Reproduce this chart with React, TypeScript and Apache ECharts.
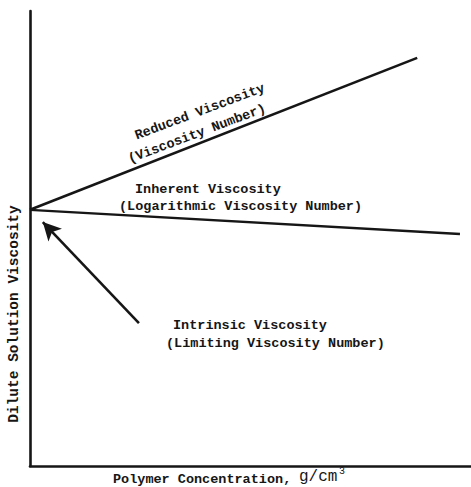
import React, { useEffect, useRef } from "react";
import * as echarts from "echarts";

// Schematic values (arbitrary units, axes 0..10)
const xDomain = [0, 10];
const yDomain = [0, 10];
const reducedViscosity = [
  [0, 5.63],
  [8.78, 8.97],
];
const inherentViscosity = [
  [0, 5.63],
  [9.75, 5.1],
];
const intrinsicArrowFrom = [2.47, 3.14];
const intrinsicArrowTo = [0.29, 5.36];

const labels = {
  reduced: ["Reduced Viscosity", "(Viscosity Number)"],
  inherent: ["Inherent Viscosity", "(Logarithmic Viscosity Number)"],
  intrinsic: ["Intrinsic Viscosity", "(Limiting Viscosity Number)"],
  xName: "Polymer Concentration,",
  xUnit: "g/cm",
  xUnitSup: "3",
  yName: "Dilute Solution Viscosity",
};

const INK = "#161616";
const MONO = "'Liberation Mono', 'DejaVu Sans Mono', monospace";

export default function App() {
  const ref = useRef<HTMLDivElement>(null);

  useEffect(() => {
    document.body.style.margin = "0";
    const chart = echarts.init(ref.current!, null, { renderer: "svg" });
    const txt = (
      text: string,
      x: number,
      y: number,
      opts: any = {}
    ) => ({
      type: "text",
      x,
      y,
      rotation: opts.rotation || 0,
      style: {
        text,
        fill: INK,
        font: `${opts.weight || "bold"} ${opts.size || 13.5}px ${opts.family || MONO}`,
        textAlign: opts.align || "left",
        textVerticalAlign: "middle",
      },
    });
    chart.setOption({
      animation: false,
      backgroundColor: "#ffffff",
      grid: { left: 30, right: 0, top: 11, bottom: 21 },
      xAxis: {
        type: "value",
        min: xDomain[0],
        max: xDomain[1],
        axisLine: { onZero: false, lineStyle: { color: INK, width: 2.6 } },
        axisTick: { show: false },
        axisLabel: { show: false },
        splitLine: { show: false },
      },
      yAxis: {
        type: "value",
        min: yDomain[0],
        max: yDomain[1],
        axisLine: { show: true, onZero: false, lineStyle: { color: INK, width: 2.6 } },
        axisTick: { show: false },
        axisLabel: { show: false },
        splitLine: { show: false },
      },
      series: [
        {
          type: "line",
          data: reducedViscosity,
          showSymbol: false,
          lineStyle: { color: INK, width: 2.6 },
        },
        {
          type: "line",
          data: inherentViscosity,
          showSymbol: false,
          lineStyle: { color: INK, width: 2.4 },
          markLine: {
            silent: true,
            symbol: ["none", "arrow"],
            symbolSize: [14, 18],
            label: { show: false },
            lineStyle: { color: INK, width: 2.6, type: "solid" },
            data: [[{ coord: intrinsicArrowFrom }, { coord: intrinsicArrowTo }]],
          },
        },
      ],
      graphic: [
        txt(labels.reduced[0], 200, 112, { rotation: 0.36, align: "center" }),
        txt(labels.reduced[1], 197, 134, { rotation: 0.36, align: "center" }),
        txt(labels.inherent[0], 135, 189),
        txt(labels.inherent[1], 119, 206),
        txt(labels.intrinsic[0], 173, 325),
        txt(labels.intrinsic[1], 166, 343),
        txt(labels.yName, 14, 314, { rotation: Math.PI / 2, align: "center", size: 14.5 }),
        txt(labels.xName, 113, 479),
        txt(labels.xUnit, 299, 477, { size: 16, weight: "normal" }),
        txt(labels.xUnitSup, 339, 471, { size: 10, weight: "normal" }),
      ],
    });
    return () => chart.dispose();
  }, []);

  return <div ref={ref} style={{ width: 471, height: 487 }} />;
}
